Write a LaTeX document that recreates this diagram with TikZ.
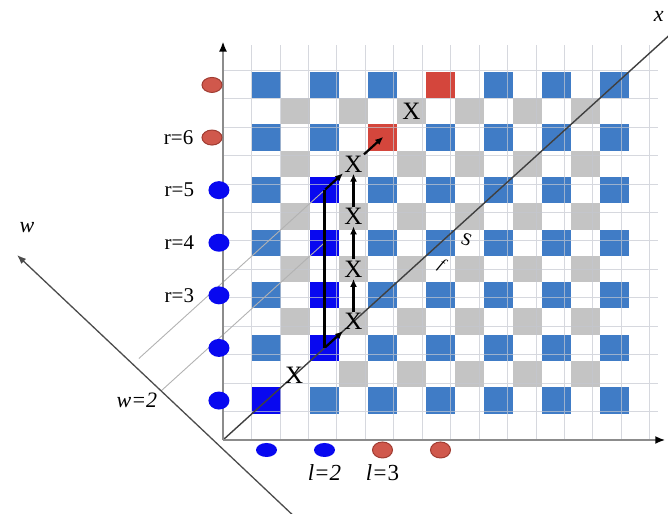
\documentclass[tikz,border=0pt]{standalone}
\usepackage{fontspec}
\setmainfont{Liberation Serif}
\usetikzlibrary{arrows.meta, shapes.geometric, positioning}
\definecolor{cellblue}{RGB}{64,124,198}
\definecolor{pathblue}{RGB}{8,8,240}
\definecolor{cellred}{RGB}{212,70,60}
\definecolor{cellgray}{RGB}{196,196,196}
\definecolor{dotred}{RGB}{208,88,76}
\definecolor{dotrededge}{RGB}{160,60,50}
\definecolor{gridcol}{RGB}{196,200,208}
\tikzset{
  axisline/.style={draw=black!45, line width=1.8pt, -{Latex[length=10pt, width=8pt, color=black]}},
  waxis/.style={draw=black!70, line width=1.3pt, -{Latex[length=9pt, width=7pt]}},
  diagline/.style={draw=black!75, line width=1.4pt},
  guideline/.style={draw=black!30, line width=0.9pt},
  pathline/.style={draw=black, line width=2.6pt},
  patharrow/.style={draw=black, line width=2.2pt, -{Latex[length=8pt, width=7pt]}, shorten >=1pt, shorten <=1pt},
  xmark/.style={inner sep=0.5pt, font=\fontsize{25}{25}\selectfont},
  bluedot/.style={ellipse, fill=pathblue, minimum width=21pt, minimum height=18pt, inner sep=0pt},
  reddot/.style={ellipse, fill=dotred, draw=dotrededge, line width=1pt, minimum width=20pt, minimum height=15pt, inner sep=0pt},
  labeltext/.style={inner sep=1pt, font=\fontsize{21}{21}\selectfont},
}
\begin{document}
\begin{tikzpicture}[x=29pt, y=26.3pt]
\useasboundingbox (-7.69,-2.814) rectangle (15.345,16.73);

% cells
\foreach \i in {1,3,...,13}
  \foreach \j in {1,3,...,13}
    \fill[cellblue] (\i,\j) rectangle ++(1,1);
\foreach \i in {2,4,...,12}
  \foreach \j in {2,4,...,12}
    \fill[cellgray] (\i,\j) rectangle ++(1,1);
\fill[white] (2,2) rectangle ++(1,1);
\foreach \c in {(1,1),(3,3),(3,5),(3,7),(3,9)}
  \fill[pathblue] \c rectangle ++(1,1);
\fill[cellred] (5,11) rectangle ++(1,1);
\fill[cellred] (7,13) rectangle ++(1,1);

\draw[gridcol, line width=0.8pt, opacity=0.7] (0,0) grid (15,15);

\coordinate (o) at (0,0);
\coordinate (ytip) at (0,15.15);
\coordinate (xaxtip) at (15.25,0);
\coordinate (xtip) at (15.4,15.4);
\coordinate (wtip) at (-7.1,7.03);
\coordinate (wend) at (2.45,-2.9);
\coordinate (c11) at (1.5,1.5);
\coordinate (c33) at (3.5,3.5);
\coordinate (c37) at (3.5,7.5);
\coordinate (c39) at (3.5,9.5);
\coordinate (c511) at (5.55,11.55);
\coordinate (g4) at (-2.134,1.866);
\coordinate (g6) at (-2.9,3.1);

% guide lines and axes
\draw[guideline] (g4) -- (c37);
\draw[guideline] (g6) -- (c39);
\draw[diagline] (o) -- (xtip);
\draw[axisline] (o) -- (ytip);
\draw[axisline] (o) -- (xaxtip);
\draw[waxis] (wend) -- (wtip);

% marks
\node[xmark] (x22) at (2.45,2.45) {X};
\node[xmark] (x44) at (4.5,4.5) {X};
\node[xmark] (x46) at (4.5,6.5) {X};
\node[xmark] (x48) at (4.5,8.5) {X};
\node[xmark] (x410) at (4.5,10.5) {X};
\node[xmark] (x612) at (6.5,12.5) {X};

% path
\draw[pathline] (c33) -- (c39);
\draw[patharrow] (c33) -- (x44);
\draw[patharrow] (x44) -- (x46);
\draw[patharrow] (x46) -- (x48);
\draw[patharrow] (x48) -- (x410);
\draw[patharrow] (c39) -- (x410);
\draw[patharrow] (x410) -- (c511);

% dots on the axes
\foreach \j in {1,3,5,7,9}
  \node[bluedot] (dy\j) at (-0.14,\j+0.5) {};
\foreach \j in {11,13}
  \node[reddot] (dy\j) at (-0.38,\j+0.5) {};
\foreach \i in {1,3}
  \node[bluedot, minimum height=14pt] (dx\i) at (\i+0.5,-0.38) {};
\foreach \i in {5,7}
  \node[reddot, minimum height=16pt] (dx\i) at (\i+0.5,-0.38) {};

% labels
\node[labeltext, left=7pt of dy11] (r6) {r=6};
\node[labeltext, left=13pt of dy9] (r5) {r=5};
\node[labeltext, left=13pt of dy7] (r4) {r=4};
\node[labeltext, left=13pt of dy5] (r3) {r=3};
\node[labeltext, font=\fontsize{23}{23}\selectfont, below=6pt of dx3] (l2) {\textit{l=2}};
\node[labeltext, font=\fontsize{23}{23}\selectfont, below=5pt of dx5] (l3) {\textit{l=}3};
\node[labeltext, font=\fontsize{22}{22}\selectfont] (w2) at (-2.97,1.52) {\textit{w=2}};
\node[labeltext, font=\fontsize{22}{22}\selectfont] (wlab) at (-6.76,8.06) {\textit{w}};
\node[labeltext, font=\fontsize{22}{22}\selectfont] (xlab) at (15.03,16.12) {\textit{x}};
\node[labeltext, rotate=-20, font=\fontsize{18}{18}\selectfont] (slab) at (8.4,7.62) {S};
\node[labeltext, rotate=-30, font=\fontsize{16}{16}\selectfont] (flab) at (7.55,6.64) {\textit{f}};
\end{tikzpicture}
\end{document}
